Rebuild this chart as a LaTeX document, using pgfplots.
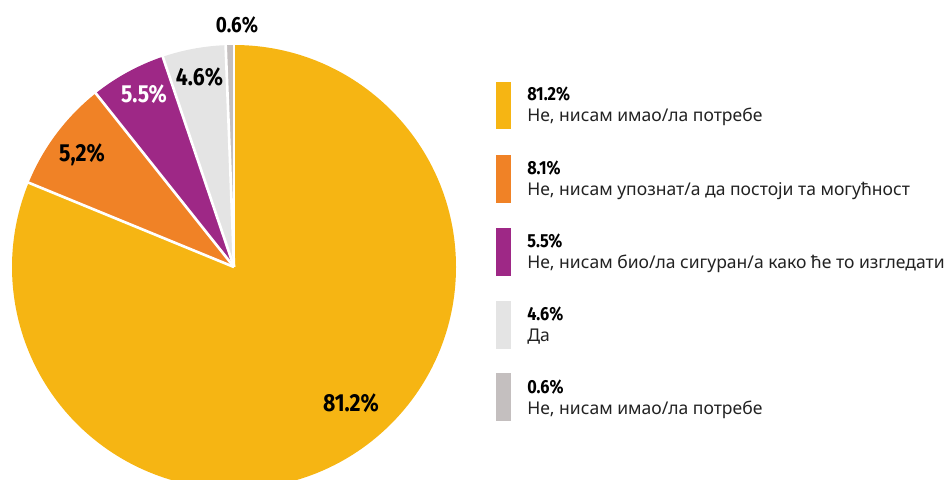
\documentclass[border=0pt]{standalone}
\usepackage{fontspec}
\setmainfont{Noto Sans}
\newfontfamily\numfont{Fira Sans}[FakeStretch=0.86]
\usepackage{pgfplots}
\usepackage{pgfplotstable}
\pgfplotsset{compat=1.18}
\definecolor{slice0}{HTML}{F6B513}
\definecolor{slice1}{HTML}{F08226}
\definecolor{slice2}{HTML}{9E2886}
\definecolor{slice3}{HTML}{E4E4E4}
\definecolor{slice4}{HTML}{C4BFBF}
\definecolor{txt}{HTML}{222222}
\pgfplotstableread{
value
81.2
8.1
5.5
4.6
0.6
}\piedata
\begin{document}
\begin{tikzpicture}
\def\cum{90}
\foreach \i in {0,...,4}{%
  \pgfplotstablegetelem{\i}{value}\of\piedata
  \pgfmathsetmacro\e{\cum-3.6*\pgfplotsretval}%
  \expandafter\xdef\csname sa\i\endcsname{\cum}%
  \expandafter\xdef\csname ea\i\endcsname{\e}%
  \xdef\cum{\e}%
}
\begin{axis}[scale only axis, width=711pt, height=359.25pt,
  xmin=0, xmax=948, ymin=0, ymax=479, hide axis, clip=true]
\pgfplotsinvokeforeach{0,...,4}{
  \fill[slice#1] (axis cs:234,212) -- (axis cs:{234+222*cos(\csname sa#1\endcsname)},{212+222*sin(\csname sa#1\endcsname)})
    arc[start angle=\csname sa#1\endcsname, end angle=\csname ea#1\endcsname, radius=166.5pt] -- cycle;
}
\pgfplotsinvokeforeach{0,...,4}{
  \draw[white, line width=2pt] (axis cs:234,212) -- (axis cs:{234+224*cos(\csname sa#1\endcsname)},{212+224*sin(\csname sa#1\endcsname)});
}
\tikzset{pl/.style={font=\numfont\bfseries\fontsize{18.5}{18}\selectfont, anchor=base, inner sep=0pt}}
\node[pl] at (axis cs:351,67.3) {81.2\%};
\node[pl] at (axis cs:82,317) {5,2\%};
\node[pl, text=white] at (axis cs:144,376) {5.5\%};
\node[pl] at (axis cs:199.5,393) {4.6\%};
\node[pl, font=\numfont\bfseries\fontsize{16.5}{16}\selectfont] at (axis cs:237,446) {0.6\%};
% legend
\tikzset{ln/.style={font=\numfont\bfseries\fontsize{14.2}{14}\selectfont, anchor=base west, inner sep=0pt},
         lt/.style={font=\fontsize{13.15}{13}\selectfont, text=txt, anchor=base west, inner sep=0pt}}
\fill[slice0] (axis cs:496,397) rectangle (axis cs:511,350);
\node[ln] at (axis cs:527,378) {81.2\%};
\node[lt] at (axis cs:527,357) {Не, нисам имао/ла потребе};
\fill[slice1] (axis cs:496,324) rectangle (axis cs:511,276);
\node[ln] at (axis cs:527,305) {8.1\%};
\node[lt] at (axis cs:527,284) {Не, нисам упознат/а да постоји та могућност};
\fill[slice2] (axis cs:496,251) rectangle (axis cs:511,203);
\node[ln] at (axis cs:527,232) {5.5\%};
\node[lt] at (axis cs:527,211) {Не, нисам био/ла сигуран/а како ће то изгледати};
\fill[slice3] (axis cs:496,178) rectangle (axis cs:511,130);
\node[ln] at (axis cs:527,159) {4.6\%};
\node[lt] at (axis cs:527,138) {Да};
\fill[slice4] (axis cs:496,106) rectangle (axis cs:511,58);
\node[ln] at (axis cs:527,86) {0.6\%};
\node[lt] at (axis cs:527,65) {Не, нисам имао/ла потребе};
\end{axis}
\pgfresetboundingbox
\path (current axis.south west) rectangle (current axis.north east);
\end{tikzpicture}
\end{document}
